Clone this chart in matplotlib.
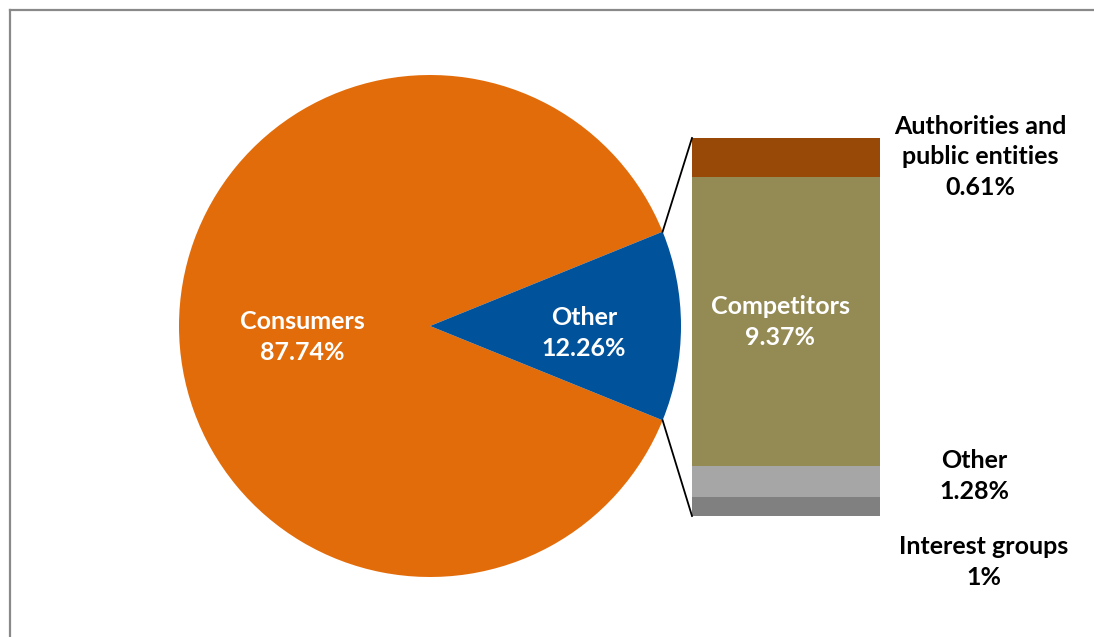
import numpy as np
import matplotlib
matplotlib.use("Agg")
import matplotlib.pyplot as plt
from matplotlib.lines import Line2D

# ---- data ----
pie_labels = ["Consumers", "Other"]
pie_values = [87.74, 12.26]
pie_colors = ["#E36C0A", "#00529B"]

# breakdown of "Other" (bar segments, bottom to top)
bar_values = [0.61, 1.00, 9.37, 1.28]
bar_colors = ["#808080", "#A6A6A6", "#948A54", "#984807"]

# labels for the breakdown
bar_label_texts = ["Interest groups\n1%", "Other\n1.28%", "Competitors\n9.37%",
                   "Authorities and\npublic entities\n0.61%"]

W, H = 1094, 637
fig = plt.figure(figsize=(W / 100, H / 100), dpi=100)
ax = fig.add_axes([0, 0, 1, 1])

FONT = ["Lato", "DejaVu Sans"]
FS = 18
LS = 1.4

cx, cy, r = 430, H - 326, 251
half = pie_values[1] / 100 * 360 / 2
ax.pie(pie_values, colors=pie_colors, startangle=half, center=(cx, cy),
       radius=r, counterclock=True, frame=True,
       wedgeprops=dict(linewidth=0))
ax.set_xlim(0, W)
ax.set_ylim(0, H)
ax.set_aspect("equal")
ax.axis("off")

# bar of pie
bx0, bw = 692, 188
by0 = H - 516
scale = 378 / sum(bar_values)
bottoms = np.concatenate([[0], np.cumsum(bar_values)[:-1]])
ax.bar([bx0 + bw / 2] * len(bar_values), np.array(bar_values) * scale, width=bw,
       bottom=by0 + bottoms * scale, color=bar_colors, linewidth=0)

# connector lines
top_bar = by0 + sum(bar_values) * scale
for ang, yb in [(half, top_bar), (-half, by0)]:
    px = cx + r * np.cos(np.radians(ang))
    py = cy + r * np.sin(np.radians(ang))
    ax.plot([px, bx0], [py, yb], color="black", lw=1.3)

def label(x, y, s, color):
    ax.text(x, H - y, s, color=color, ha="center", va="center", fontsize=FS,
            fontweight="bold", family=FONT, linespacing=LS)

# pie labels
label(302, 337, f"{pie_labels[0]}\n{pie_values[0]:.2f}%", "white")
label(584, 333, f"{pie_labels[1]}\n{pie_values[1]:.2f}%", "white")

# bar labels
label(780, 322, bar_label_texts[2], "white")
label(980, 157, bar_label_texts[3], "black")
label(974, 476, bar_label_texts[1], "black")
label(984, 562, bar_label_texts[0], "black")

# frame
fig.add_artist(Line2D([9.5 / W, 1], [1 - 9.5 / H, 1 - 9.5 / H], color="#898989", lw=1.6,
                      transform=fig.transFigure))
fig.add_artist(Line2D([9.5 / W, 9.5 / W], [0, 1 - 9.5 / H], color="#898989", lw=1.6,
                      transform=fig.transFigure))

fig.savefig("out.png", dpi=100)
